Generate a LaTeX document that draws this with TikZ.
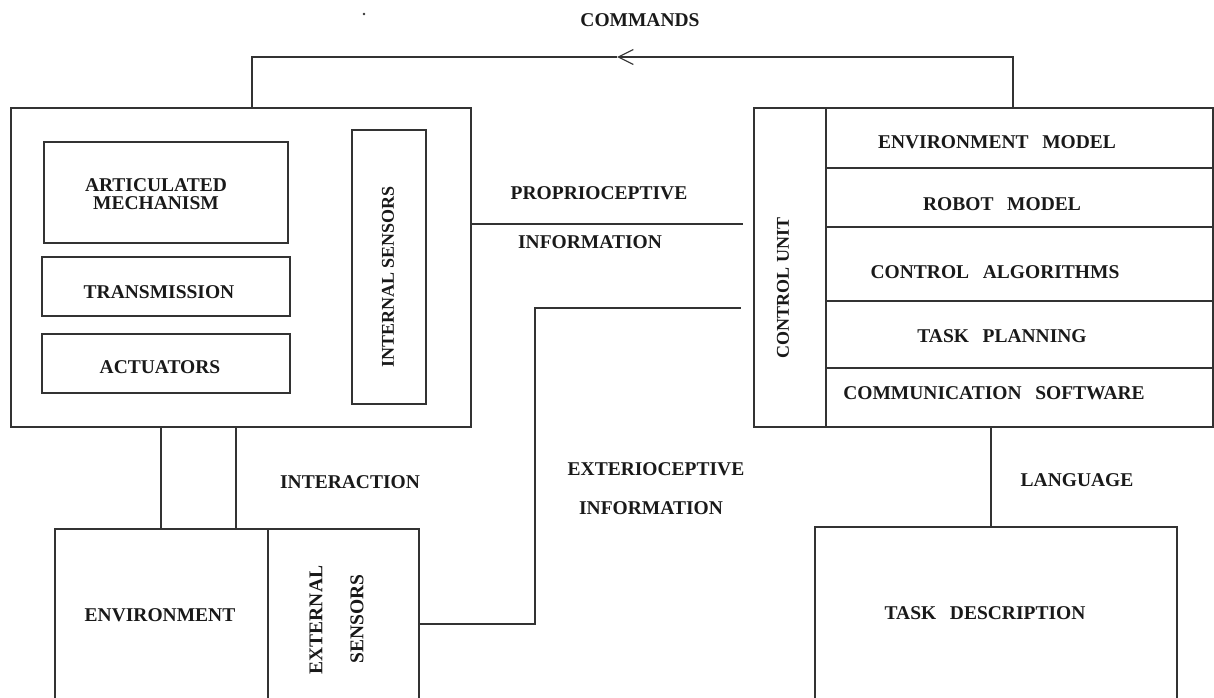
\documentclass[tikz,border=0pt]{standalone}
\usepackage{fontspec}
\setmainfont{Liberation Serif}[WordSpace=2.8]
\newfontfamily\plainserif{Liberation Serif}
\usetikzlibrary{arrows.meta}
\begin{document}
\begin{tikzpicture}[x=1pt,y=-1pt,
  box/.style={draw=black!80, line width=1.2pt, inner sep=0pt},
  conn/.style={draw=black!80, line width=1.2pt},
  txt/.style={inner sep=0pt, font=\fontsize{19.5}{18}\selectfont\bfseries, text=black!90},
  vtxt/.style={txt, rotate=90},
  vtxtn/.style={inner sep=0pt, rotate=90, font=\plainserif\fontsize{18}{18}\selectfont\bfseries, text=black!90}]
\useasboundingbox (0,0) rectangle (1214,697);
% robot mechanism
\node[box, minimum width=460pt, minimum height=319pt] (robot) at (241,267.5) {};
\node[box, minimum width=244pt, minimum height=101pt] (artic) at (166,192.5) {};
\node[box, minimum width=248pt, minimum height=59pt] (trans) at (166,286.5) {};
\node[box, minimum width=248pt, minimum height=59pt] (act) at (166,363.5) {};
\node[box, minimum width=74pt, minimum height=274pt] (intsens) at (389,267) {};
\node[txt, align=center] (articT) at (156,194) {ARTICULATED\\MECHANISM};
\node[txt] (transT) at (159,292) {TRANSMISSION};
\node[txt] (actT) at (160,367) {ACTUATORS};
\node[vtxtn] (intT) at (388,277) {INTERNAL SENSORS};
% control unit
\node[box, minimum width=72pt, minimum height=319pt] (cu) at (790,267.5) {};
\node[box, minimum width=387pt, minimum height=60pt] (envm) at (1019.5,138) {};
\node[box, minimum width=387pt, minimum height=59pt] (robm) at (1019.5,197.5) {};
\node[box, minimum width=387pt, minimum height=74pt] (calg) at (1019.5,264) {};
\node[box, minimum width=387pt, minimum height=67pt] (tplan) at (1019.5,334.5) {};
\node[box, minimum width=387pt, minimum height=59pt] (comm) at (1019.5,397.5) {};
\node[vtxtn] (cuT) at (783,288) {CONTROL UNIT};
\node[txt] (envmT) at (997,142) {ENVIRONMENT MODEL};
\node[txt] (robmT) at (1002,204) {ROBOT MODEL};
\node[txt] (calgT) at (995,272) {CONTROL ALGORITHMS};
\node[txt] (tplanT) at (1002,336) {TASK PLANNING};
\node[txt] (commT) at (994,393) {COMMUNICATION SOFTWARE};
% bottom
\node[box, minimum width=213pt, minimum height=181pt] (env) at (161.5,619.5) {};
\node[box, minimum width=151pt, minimum height=181pt] (ext) at (343.5,619.5) {};
\node[box, minimum width=362pt, minimum height=183pt] (task) at (996,618.5) {};
\node[txt] (envT) at (160,615) {ENVIRONMENT};
\node[vtxt] (extT1) at (316,620) {EXTERNAL};
\node[vtxt] (extT2) at (357,619) {SENSORS};
\node[txt] (taskT) at (985,613) {TASK DESCRIPTION};
% labels
\node[txt] (cmdT) at (640,20) {COMMANDS};
\fill[black!80] (364,14) circle (1.4pt);
\node[txt] (propT1) at (599,193) {PROPRIOCEPTIVE};
\node[txt] (propT2) at (590,242) {INFORMATION};
\node[txt] (interT) at (350,482) {INTERACTION};
\node[txt] (exteT1) at (656,469) {EXTERIOCEPTIVE};
\node[txt] (exteT2) at (651,508) {INFORMATION};
\node[txt] (langT) at (1077,480) {LANGUAGE};
% connectors
\coordinate (cmdR) at (1013,57);
\coordinate (cmdA) at (617,57);
\coordinate (cmdL) at (252,57);
\draw[conn, -{Straight Barb[length=15pt,width=15pt,line width=1.2pt]}] (cmdR |- envm.north) -- (cmdR) -- (cmdA);
\draw[conn] (cmdA) -- (cmdL) -- (cmdL |- robot.north);
\coordinate (propE) at (743,224);
\draw[conn] (robot.east |- propE) -- (propE);
\coordinate (extE) at (741,308);
\coordinate (extC) at (535,308);
\coordinate (extB) at (535,624);
\draw[conn] (ext.east |- extB) -- (extB) -- (extC) -- (extE);
\coordinate (int1) at (161,470);
\coordinate (int2) at (236,470);
\draw[conn] (int1 |- robot.south) -- (int1 |- env.north);
\draw[conn] (int2 |- robot.south) -- (int2 |- env.north);
\coordinate (lang) at (991,470);
\draw[conn] (lang |- comm.south) -- (lang |- task.north);
\end{tikzpicture}
\end{document}
